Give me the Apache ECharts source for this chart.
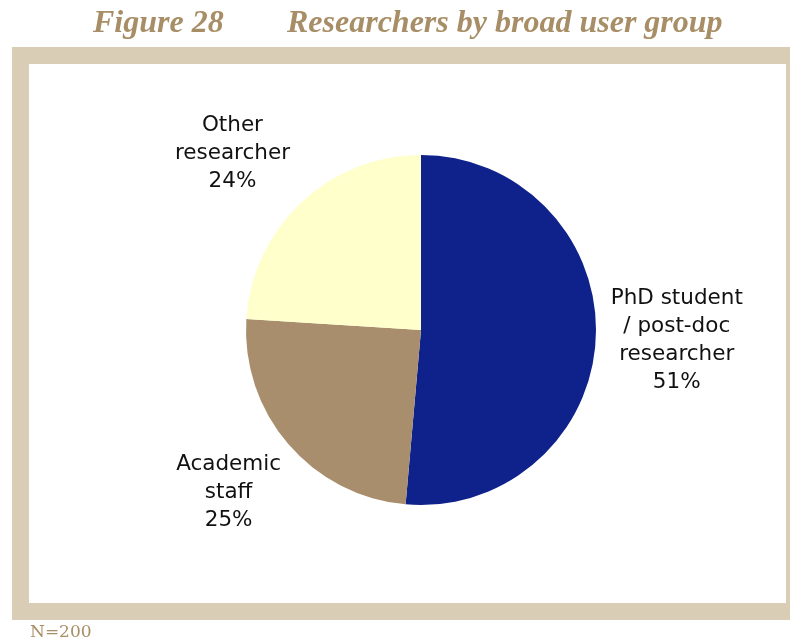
<!DOCTYPE html>
<html><head><meta charset="utf-8">
<script src="https://cdn.jsdelivr.net/npm/echarts@6/dist/echarts.min.js"></script>
<style>html,body{margin:0;padding:0;background:#fff}#c{width:790px;height:643px}</style>
</head><body><div id="c"></div>
<script>
const categories = ["PhD student\n/ post-doc\nresearcher", "Academic\nstaff", "Other\nresearcher"];
const values = [51.4, 24.6, 24.0];
const colors = ["#0f218b", "#a88e6c", "#ffffcc"];
const figureLabel = "Figure 28";
const titleText = "Researchers by broad user group";
const noteText = "N=200";

const chart = echarts.init(document.getElementById('c'), null, {renderer: 'canvas'});
const tan = '#a88e66';
// small per-label nudges (pixels) to match the original label placement
const labelNudge = [[1, -1], [1, -4], [-14, 9]];
chart.setOption({
  animation: false,
  backgroundColor: '#fff',
  graphic: [
    {type: 'rect', z: -10, shape: {x: 12, y: 47, width: 800, height: 573}, style: {fill: '#d9cdb5'}},
    {type: 'rect', z: -9, shape: {x: 29, y: 64, width: 757, height: 539}, style: {fill: '#ffffff'}},
    {type: 'text', left: 93, top: 8, style: {text: figureLabel, font: 'italic bold 32px "Liberation Serif"', fill: tan}},
    {type: 'text', left: 287, top: 8, style: {text: titleText, font: 'italic bold 32px "Liberation Serif"', fill: tan}},
    {type: 'text', left: 30, top: 624, style: {text: noteText, font: '17px "DejaVu Serif"', fill: tan}}
  ],
  series: [{
    type: 'pie',
    center: [421, 330],
    radius: 175,
    startAngle: 90,
    clockwise: true,
    avoidLabelOverlap: false,
    silent: true,
    data: categories.map((n, i) => ({name: n, value: values[i], itemStyle: {color: colors[i]}})),
    itemStyle: {borderWidth: 0},
    label: {
      show: true,
      position: 'outside',
      formatter: p => p.name + '\n' + Math.round(p.value) + '%',
      fontFamily: 'DejaVu Sans',
      fontSize: 21.5,
      lineHeight: 28,
      color: '#111',
      align: 'center'
    },
    labelLine: {show: false, length: 80, length2: 0},
    labelLayout: function (params) {
      const pts = params.labelLinePoints;
      const p = pts[pts.length - 1];
      const n = labelNudge[params.dataIndex];
      return {x: p[0] + n[0], y: p[1] + n[1], align: 'center', verticalAlign: 'middle'};
    }
  }]
});
</script></body></html>
